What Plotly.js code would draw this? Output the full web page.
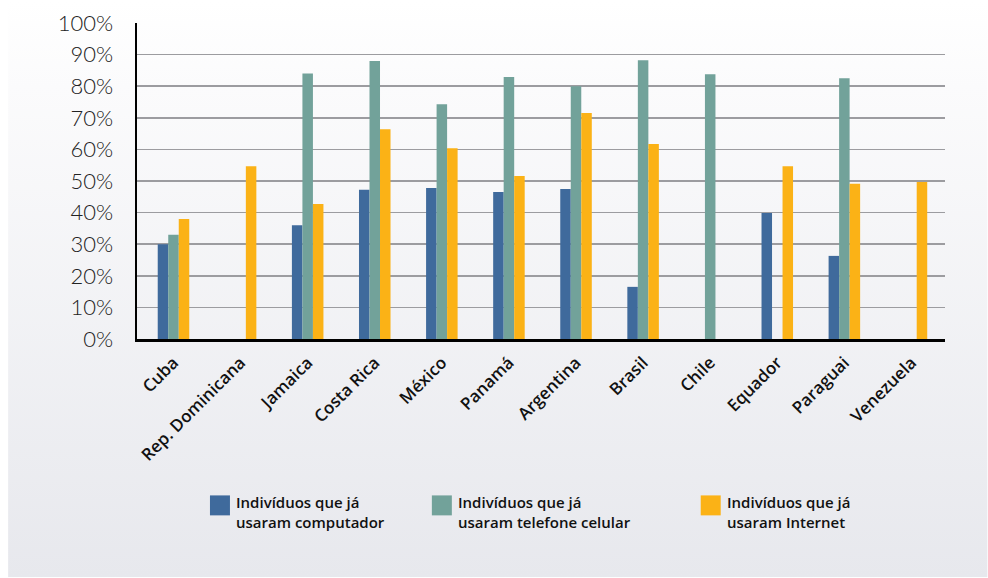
<!DOCTYPE html>
<html>
<head>
<meta charset="utf-8">
<script src="https://cdn.plot.ly/plotly-3.0.1.min.js"></script>
<style>html,body{margin:0;padding:0;background:#fff;}#chart{width:988px;height:578px;}</style>
</head>
<body>
<div id="chart"></div>
<script>
var countries = ["Cuba", "Rep. Dominicana", "Jamaica", "Costa Rica", "México", "Panamá", "Argentina", "Brasil", "Chile", "Equador", "Paraguai", "Venezuela"];
var computador = [30, null, 36, 47.2, 47.8, 46.5, 47.5, 16.5, null, 39.9, 26.3, null];
var celular = [33, null, 84, 88, 74.3, 82.9, 80, 88.2, 83.8, null, 82.5, null];
var internet = [38, 54.7, 42.7, 66.4, 60.4, 51.6, 71.5, 61.7, null, 54.7, 49.1, 49.7];
var seriesNames = ["Indivíduos que já<br>usaram computador", "Indivíduos que já<br>usaram telefone celular", "Indivíduos que já<br>usaram Internet"];
var seriesColors = ["#3f6a9c", "#72a29a", "#fbb216"];
var yTickVals = [0, 10, 20, 30, 40, 50, 60, 70, 80, 90, 100];
var yTickText = ["0%", "10%", "20%", "30%", "40%", "50%", "60%", "70%", "80%", "90%", "100%"];

// plot area in pixels
var L = 137, R = 945.4, T = 22.7, B = 339.3, W = 988, H = 578;
function px(x) { return (x - L) / (R - L); }
function py(y) { return (B - y) / (B - T); }

var values = [computador, celular, internet];
var traces = values.map(function (v, i) {
  return {
    type: "bar", x: countries, y: v, name: seriesNames[i],
    marker: { color: seriesColors[i], line: { width: 0 } },
    showlegend: false, hoverinfo: "skip"
  };
});

var grad = 'data:image/svg+xml;utf8,' + encodeURIComponent(
  '<svg xmlns="http://www.w3.org/2000/svg" width="980" height="578" preserveAspectRatio="none">' +
  '<defs><linearGradient id="g" x1="0" y1="0" x2="0" y2="1">' +
  '<stop offset="0" stop-color="#ffffff"/><stop offset="0.15" stop-color="#fbfbfc"/><stop offset="1" stop-color="#e7e8ed"/>' +
  '</linearGradient></defs><rect width="980" height="578" fill="url(#g)"/></svg>');

var legendX = [210, 432, 701];
var shapes = [], annotations = [];
legendX.forEach(function (lx, i) {
  shapes.push({ type: "rect", xref: "paper", yref: "paper", x0: px(lx), x1: px(lx + 20), y0: py(516), y1: py(496), fillcolor: seriesColors[i], line: { width: 0 } });
  annotations.push({ xref: "paper", yref: "paper", x: px(lx + 24), y: py(491), xanchor: "left", yanchor: "top", align: "left", showarrow: false, text: seriesNames[i], font: { family: "Open Sans, sans-serif", size: 15, color: "#111", weight: 600 } });
});

var layout = {
  width: W, height: H,
  margin: { l: L, r: W - R, t: T, b: H - B, pad: 0 },
  paper_bgcolor: "#ffffff", plot_bgcolor: "rgba(0,0,0,0)",
  barmode: "group", bargap: 0.53, bargroupgap: 0,
  images: [{ source: grad, xref: "paper", yref: "paper", x: px(8), y: py(0), sizex: 980 / (R - L), sizey: H / (B - T), xanchor: "left", yanchor: "top", sizing: "stretch", layer: "below" }],
  xaxis: {
    type: "category", range: [-0.544, 11.5], tickangle: -45,
    showline: true, linecolor: "#000", linewidth: 3, showgrid: false, ticks: "", ticklabelstandoff: 4,
    tickfont: { family: "Open Sans, sans-serif", size: 17, color: "#111", weight: 600 }, fixedrange: true
  },
  yaxis: {
    range: [0, 100], tickvals: yTickVals, ticktext: yTickText,
    showline: true, linecolor: "#000", linewidth: 2.5, showgrid: true, gridcolor: "#9c9ca0", gridwidth: 1.5,
    zeroline: false, ticks: "", ticklabelstandoff: 17,
    tickfont: { family: "Lato, sans-serif", size: 22, color: "#222", weight: 300 }, fixedrange: true
  },
  shapes: shapes, annotations: annotations, showlegend: false
};

Plotly.newPlot("chart", traces, layout, { displayModeBar: false, staticPlot: true });
</script>
</body>
</html>
